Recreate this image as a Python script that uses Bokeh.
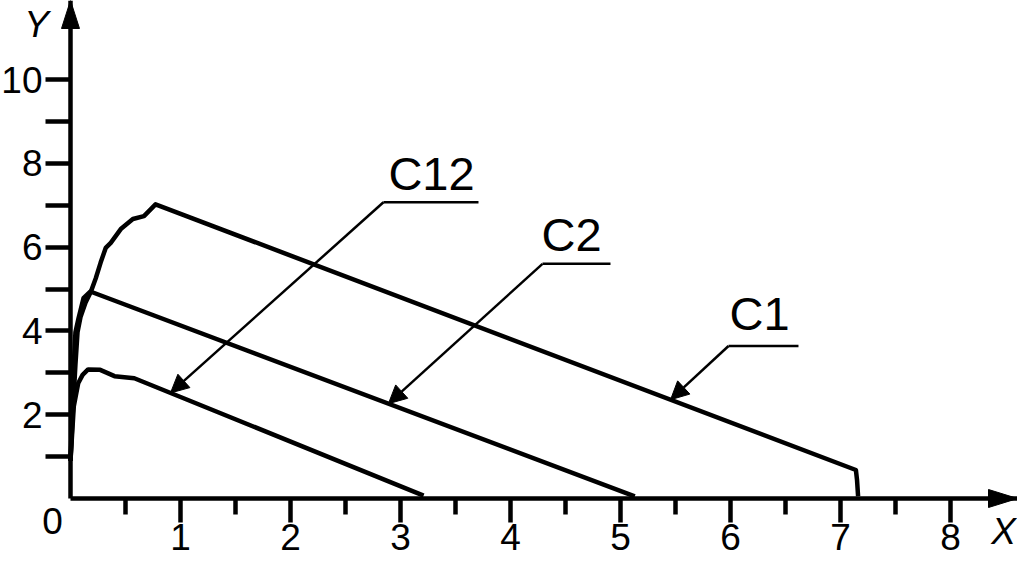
import numpy as np
from bokeh.plotting import figure
from bokeh.models import Range1d, LinearAxis, FixedTicker, Label, Arrow, NormalHead
from bokeh.embed import file_html
from bokeh.resources import INLINE

# ---------------- data ----------------
c1_x = [0.0, 0.02, 0.045, 0.064, 0.091, 0.137, 0.183, 0.229, 0.274, 0.32, 0.366,
        0.457, 0.567, 0.668, 0.773, 7.14, 7.15, 7.16]
c1_y = [0.9, 2.0, 3.2, 3.97, 4.33, 4.68, 4.92, 5.25, 5.63, 5.98, 6.10,
        6.43, 6.67, 6.74, 7.02, 0.68, 0.45, 0.05]

c2_x = [0.0, 0.015, 0.03, 0.045, 0.073, 0.118, 0.18, 5.13]
c2_y = [0.9, 2.0, 3.2, 3.97, 4.30, 4.78, 4.94, 0.05]

c12_x = [0.0, 0.03, 0.07, 0.11, 0.16, 0.27, 0.40, 0.58, 3.21]
c12_y = [0.9, 2.2, 2.75, 2.95, 3.08, 3.07, 2.92, 2.87, 0.07]

x_ticks = [1, 2, 3, 4, 5, 6, 7, 8]
x_minor_ticks = [0.5, 1.5, 2.5, 3.5, 4.5, 5.5, 6.5, 7.5]
y_ticks = [2, 4, 6, 8, 10]
y_minor_ticks = [1, 3, 5, 7, 9]

curve_names = ["C1", "C2", "C12"]

# ---------------- annotation layout ----------------
lead_tip_x = [5.455, 2.89, 0.909]
lead_elbow_x = [5.982, 4.291, 2.845]
lead_elbow_y = [3.64, 5.60, 7.07]
lead_end_x = [6.618, 4.909, 3.709]
lead_text_x = [6.264, 4.555, 3.282]
lead_text_y = [4.00, 5.89, 7.33]

# ---------------- geometry ----------------
W, H = 1017, 557
PX_X, PX_Y = 110.0, 41.9          # pixels per data unit
ORIG_X, ORIG_Y = 70, 498          # origin position inside the canvas (px)
x_start = -ORIG_X / PX_X
x_end = x_start + W / PX_X
y_end = ORIG_Y / PX_Y
y_start = y_end - H / PX_Y

FONT = "Liberation Sans"
TICK_FS = 37
NOTE_FS = 47
BASE_FIX = 0.37   # baseline correction (em) for Label placement

p = figure(width=W, height=H, x_range=Range1d(x_start, x_end), y_range=Range1d(y_start, y_end),
           output_backend="svg", toolbar_location=None, min_border=0,
           x_axis_location=None, y_axis_location=None)
p.title.visible = False
p.outline_line_color = None
p.grid.visible = False
p.background_fill_color = "white"
p.border_fill_color = "white"

xaxis = LinearAxis(fixed_location=0, bounds=(0, x_end),
                   ticker=FixedTicker(ticks=x_ticks, minor_ticks=x_minor_ticks))
yaxis = LinearAxis(fixed_location=0, bounds=(0, y_end),
                   ticker=FixedTicker(ticks=y_ticks, minor_ticks=y_minor_ticks))
for ax in (xaxis, yaxis):
    ax.axis_line_width = 4.5
    ax.axis_line_color = "black"
    ax.major_tick_line_width = 4.5
    ax.minor_tick_line_width = 4.5
    ax.major_tick_line_color = "black"
    ax.minor_tick_line_color = "black"
    ax.major_tick_in = 0
    ax.minor_tick_in = 0
    ax.major_label_text_font = FONT
    ax.major_label_text_font_size = f"{TICK_FS}px"
    ax.major_label_text_color = "black"
xaxis.major_tick_out = 24
xaxis.minor_tick_out = 16
xaxis.major_label_standoff = 1
yaxis.major_tick_out = 25
yaxis.minor_tick_out = 25
yaxis.major_label_standoff = 3
p.add_layout(xaxis, "below")
p.add_layout(yaxis, "left")

# axis arrow heads
hx_len, hx_w = 29 / PX_X, 9 / PX_Y
hy_len, hy_w = 28 / PX_Y, 9 / PX_X
p.patch([x_end, x_end - hx_len, x_end - hx_len], [0, hx_w, -hx_w], color="black", line_width=1)
p.patch([0, hy_w, -hy_w], [y_end, y_end - hy_len, y_end - hy_len], color="black", line_width=1)

# curves
curves = {"C1": (c1_x, c1_y), "C2": (c2_x, c2_y), "C12": (c12_x, c12_y)}
for name in curve_names:
    cx, cy = curves[name]
    p.line(cx, cy, line_width=4.5, line_color="black", line_join="round")

# leaders with labels
for i, name in enumerate(curve_names):
    cx, cy = curves[name]
    tx = lead_tip_x[i]
    ty = float(np.interp(tx, cx, cy))
    ex, ey = lead_elbow_x[i], lead_elbow_y[i]
    p.line([ex, lead_end_x[i]], [ey, ey], line_width=2.5, line_color="black")
    p.add_layout(Arrow(x_start=ex, y_start=ey, x_end=tx, y_end=ty, line_width=2.5,
                       line_color="black",
                       end=NormalHead(size=18, fill_color="black", line_color="black", line_width=1)))
    p.add_layout(Label(x=lead_text_x[i], y=lead_text_y[i], y_offset=BASE_FIX * NOTE_FS,
                       text=name, text_align="center",
                       text_baseline="alphabetic", text_font=FONT, text_font_size=f"{NOTE_FS}px",
                       text_color="black"))

# origin label and axis names
p.add_layout(Label(x=0, y=0, x_offset=-18, y_offset=-36 + BASE_FIX * TICK_FS, text="0",
                   text_align="center", text_baseline="alphabetic", text_font=FONT,
                   text_font_size=f"{TICK_FS}px", text_color="black"))
p.add_layout(Label(x=(1003 - ORIG_X) / PX_X, y=0, y_offset=-47 + BASE_FIX * TICK_FS, text="X",
                   text_align="center", text_baseline="alphabetic", text_font=FONT,
                   text_font_size=f"{TICK_FS}px", text_font_style="italic", text_color="black"))
p.add_layout(Label(x=-0.309, y=y_end, y_offset=-38 + BASE_FIX * TICK_FS, text="Y",
                   text_align="center", text_baseline="alphabetic", text_font=FONT,
                   text_font_size=f"{TICK_FS}px", text_font_style="italic", text_color="black"))

open("out.html", "w").write(file_html(p, INLINE))
